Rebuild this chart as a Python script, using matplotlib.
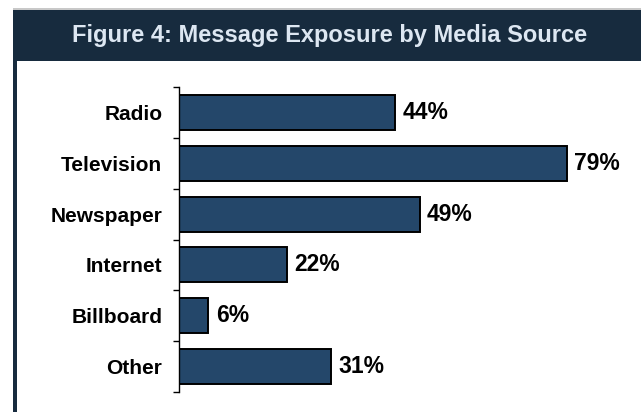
import matplotlib
matplotlib.use("Agg")
import matplotlib.pyplot as plt
from matplotlib.patches import Rectangle

plt.rcParams["font.family"] = ["Liberation Sans", "DejaVu Sans"]

categories = ["Radio", "Television", "Newspaper", "Internet", "Billboard", "Other"]
values = [44, 79, 49, 22, 6, 31]
title = "Figure 4: Message Exposure by Media Source"

W, H = 641, 412
HEADER = "#172b3e"
BAR = "#24476a"

fig = plt.figure(figsize=(W / 100, H / 100), dpi=100)
fig.patch.set_facecolor("white")

# frame: thin grey rule on top, dark header band, dark left edge
fig.add_artist(Rectangle((12.5 / W, 1 - 10 / H), 1, 1.5 / H, transform=fig.transFigure,
                         color="#c8c8c8", lw=0))
fig.add_artist(Rectangle((12.5 / W, 1 - 61 / H), 1 - 12.5 / W, 51 / H,
                         transform=fig.transFigure, color=HEADER, lw=0))
fig.add_artist(Rectangle((13 / W, 0), 3.8 / W, 1 - 60 / H,
                         transform=fig.transFigure, color=HEADER, lw=0))
fig.text(330 / W, 1 - 35.5 / H, title, ha="center", va="center", color="#dde7f2",
         fontsize=17, fontweight="bold")

# axes: x=0 at px 179, 1% ~ 4.91px; y from 87 to 392
x0, x1 = 179, 179 + 90 * 4.91
ax = fig.add_axes([x0 / W, 1 - 392 / H, (x1 - x0) / W, (392 - 87) / H])
ax.set_facecolor("none")
y = list(range(len(categories)))
ax.barh(y, values, height=0.69, color=BAR, edgecolor="black", linewidth=1.4)
ax.set_ylim(len(categories) - 0.5, -0.5)
ax.set_xlim(0, 90)
for yi, v in zip(y, values):
    ax.text(v + 1.5, yi, f"{v}%", ha="left", va="center", fontsize=16.5,
            fontweight="bold", color="black")

ax.set_yticks([i - 0.5 for i in range(len(categories) + 1)], minor=False)
ax.set_yticklabels([])
ax.set_yticks(y, minor=True)
ax.set_yticklabels(categories, minor=True, fontsize=15, fontweight="bold")
ax.tick_params(axis="y", which="major", length=4.5, width=1, direction="out")
ax.tick_params(axis="y", which="minor", length=0, pad=12)
ax.set_xticks([])
for s in ("top", "right", "bottom"):
    ax.spines[s].set_visible(False)
ax.spines["left"].set_linewidth(1)

fig.savefig("out.png", dpi=100)
